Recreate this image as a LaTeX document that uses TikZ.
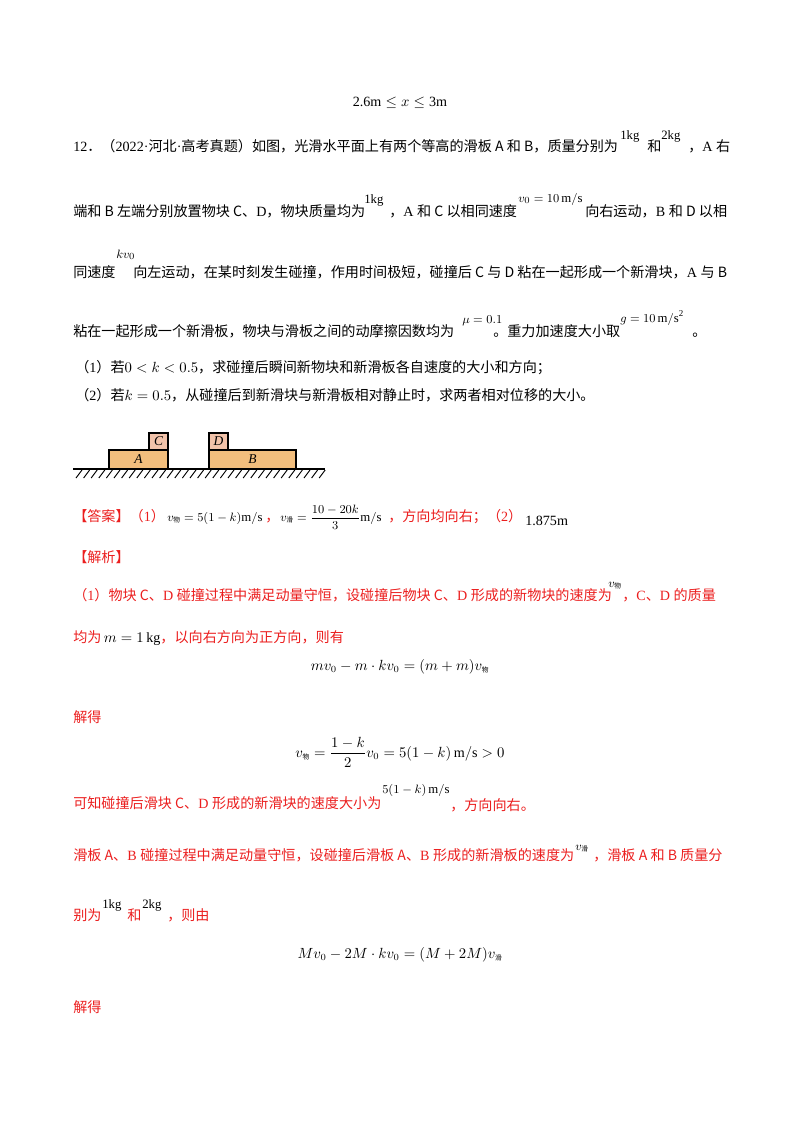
\documentclass[tikz,border=0pt]{standalone}
\usepackage{amsmath}
\usepackage{fontspec}
\setmainfont{Liberation Serif}
\newfontfamily\cjk{Noto Sans CJK SC}
\XeTeXinterchartokenstate=1
\newXeTeXintercharclass\cjkcls
\newcount\cc
\cc="4E00 \loop\ifnum\cc<"A000 \XeTeXcharclass\cc=\cjkcls \advance\cc by 1 \repeat
\cc="3000 \loop\ifnum\cc<"3040 \XeTeXcharclass\cc=\cjkcls \advance\cc by 1 \repeat
\cc="FF00 \loop\ifnum\cc<"FFF0 \XeTeXcharclass\cc=\cjkcls \advance\cc by 1 \repeat
\XeTeXinterchartoks 0 \cjkcls = {\cjk}
\XeTeXinterchartoks 4095 \cjkcls = {\cjk}
\XeTeXinterchartoks \cjkcls 0 = {\rmfamily}
\definecolor{ans}{RGB}{235,30,30}
\definecolor{board}{RGB}{242,190,125}
\definecolor{blk}{RGB}{242,195,170}
\begin{document}
\begin{tikzpicture}[x=0.744pt,y=-0.744pt,
  t/.style={anchor=base west,inner sep=0pt,font=\fontsize{10.5}{12}\selectfont},
  r/.style={t,text=ans},
  c/.style={anchor=base,inner sep=0pt,font=\fontsize{10.5}{12}\selectfont},
  s/.style={anchor=base west,inner sep=0pt,font=\fontsize{9.5}{11}\selectfont},
  f/.style={anchor=base west,inner sep=0pt,font=\fontsize{9.5}{11}\selectfont},
  lab/.style={font=\itshape\fontsize{10}{12}\selectfont}]
\useasboundingbox (0,0) rectangle (800,1132);
\node[c] (l0) at (400,106) {2.6m${}\le x\le{}$3m};
\node[t] (l1) at (73,151) {12．（2022·河北·高考真题）如图，光滑水平面上有两个等高的滑板 A 和 B，质量分别为};
\node[s] (l1a) at (620,139) {1kg};
\node[t] (l1b) at (647,151) {和};
\node[s] (l1c) at (661,139) {2kg};
\node[t] (l1d) at (688,151) {，A 右};
\node[t] (l2) at (73,216) {端和 B 左端分别放置物块 C、D，物块质量均为};
\node[s] (l2a) at (364,203) {1kg};
\node[t] (l2b) at (389,216) {，A 和 C 以相同速度};
\node[s] (l2c) at (518,202) {$v_0=10\,\mathrm{m/s}$};
\node[t] (l2d) at (585,216) {向右运动，B 和 D 以相};
\node[t] (l3) at (73,277) {同速度};
\node[s] (l3a) at (116,258) {$kv_0$};
\node[t] (l3b) at (133,277) {向左运动，在某时刻发生碰撞，作用时间极短，碰撞后 C 与 D 粘在一起形成一个新滑块，A 与 B};
\node[t] (l4) at (73,336) {粘在一起形成一个新滑板，物块与滑板之间的动摩擦因数均为};
\node[s] (l4a) at (462,323) {$\mu=0.1$};
\node[t] (l4b) at (493,336) {。重力加速度大小取};
\node[s] (l4c) at (620,322) {$g=10\,\mathrm{m/s^2}$};
\node[t] (l4d) at (692,336) {。};
\node[t] (q1) at (75,372) {（1）若$0<k<0.5$，求碰撞后瞬间新物块和新滑板各自速度的大小和方向；};
\node[t] (q2) at (75,400) {（2）若$k=0.5$，从碰撞后到新滑块与新滑板相对静止时，求两者相对位移的大小。};
% figure
\draw[fill=board,line width=0.9pt] (109,450) rectangle node[lab] (A) {A} (168,469);
\draw[fill=blk,line width=0.9pt] (149,433) rectangle node[lab] (C) {C} (168,450);
\draw[fill=blk,line width=0.9pt] (209,433) rectangle node[lab] (D) {D} (228,450);
\draw[fill=board,line width=0.9pt] (209,450) rectangle node[lab] (B) {B} (296,469);
\draw[line width=0.9pt] (73,469) -- (325,469);
\foreach \i in {0,...,32} \draw[line width=0.7pt] (82+7.6*\i,470) -- (76+7.6*\i,478);
% answer
\node[r] (a1) at (73,521) {【答案】（1）};
\node[f] (a2) at (167,521) {$v_{\text{\tiny 物}}=5(1-k)\mathrm{m/s}$};
\node[r] (a3) at (265,521) {，};
\node[f] (a4) at (280,521) {$v_{\text{\tiny 滑}}=\dfrac{10-20k}{3}\mathrm{m/s}$};
\node[r] (a5) at (388,521) {，方向均向右；（2）};
\node[t] (a6) at (525,525) {1.875m};
\node[r] (j0) at (73,562) {【解析】};
\node[r] (j1) at (73,600) {（1）物块 C、D 碰撞过程中满足动量守恒，设碰撞后物块 C、D 形成的新物块的速度为};
\node[s] (j1a) at (608,587) {$v_{\text{\tiny 物}}$};
\node[r] (j1b) at (622,600) {，C、D 的质量};
\node[r] (j2) at (73,642) {均为\textcolor{black}{$\,m=1\,\mathrm{kg}$}，以向右方向为正方向，则有};
\node[c] (e1) at (400,670) {$mv_0-m\cdot kv_0=(m+m)v_{\text{\tiny 物}}$};
\node[r] (j3) at (73,722) {解得};
\node[c] (e2) at (400,757) {$v_{\text{\tiny 物}}=\dfrac{1-k}{2}v_0=5(1-k)\,\mathrm{m/s}>0$};
\node[s] (j4a) at (382,793) {$5(1-k)\,\mathrm{m/s}$};
\node[r] (j4) at (73,808) {可知碰撞后滑块 C、D 形成的新滑块的速度大小为};
\node[r] (j4b) at (450,810) {，方向向右。};
\node[r] (j5) at (73,860) {滑板 A、B 碰撞过程中满足动量守恒，设碰撞后滑板 A、B 形成的新滑板的速度为};
\node[s] (j5a) at (575,850) {$v_{\text{\tiny 滑}}$};
\node[r] (j5b) at (593,860) {，滑板 A 和 B 质量分};
\node[r] (j6) at (73,920) {别为};
\node[s] (j6a) at (102,908) {1kg};
\node[r] (j6b) at (127,920) {和};
\node[s] (j6c) at (142,908) {2kg};
\node[r] (j6d) at (167,920) {，则由};
\node[c] (e3) at (400,958) {$Mv_0-2M\cdot kv_0=(M+2M)v_{\text{\tiny 滑}}$};
\node[r] (j7) at (73,1012) {解得};
\end{tikzpicture}
\end{document}
